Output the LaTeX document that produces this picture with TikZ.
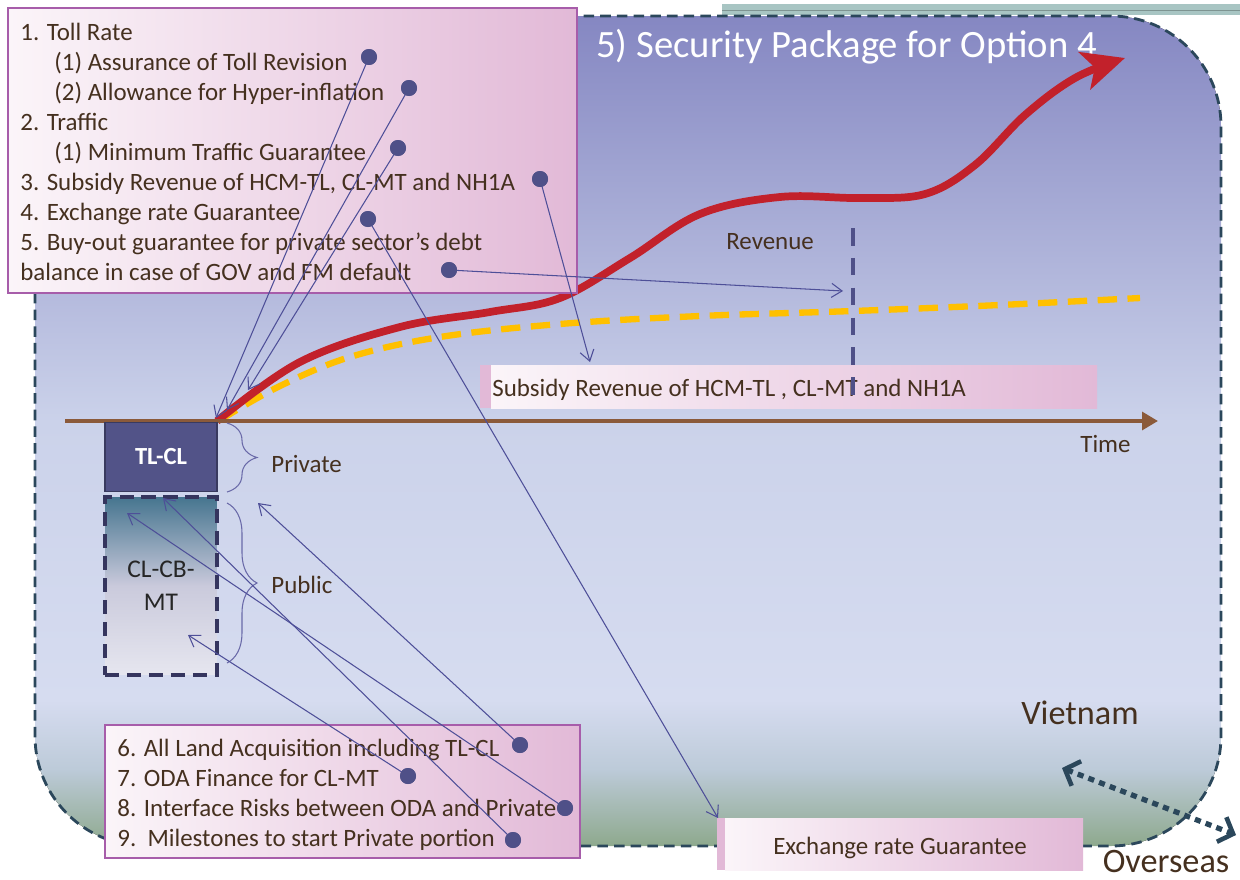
\documentclass[tikz,border=0pt]{standalone}
\usepackage{fontspec}
\setmainfont{Carlito}
\usetikzlibrary{arrows.meta,decorations.pathreplacing}

\definecolor{txtbrown}{HTML}{45301F}
\definecolor{dotblue}{HTML}{4F5088}
\definecolor{linkblue}{HTML}{4E4F98}
\definecolor{frameslate}{HTML}{2B475B}
\definecolor{boxwhite}{HTML}{FBF5F9}
\definecolor{boxpink}{HTML}{E2B9D7}
\definecolor{boxedge}{HTML}{A75DAA}
\definecolor{axisbrown}{HTML}{8B5A3A}
\definecolor{revred}{HTML}{C2212B}
\definecolor{subyellow}{HTML}{FFC000}
\definecolor{tlblue}{HTML}{525388}
\definecolor{cbedge}{HTML}{35355E}
\definecolor{cbteal}{HTML}{46758F}
\definecolor{cbmid}{HTML}{CACADC}
\definecolor{cblow}{HTML}{E6E6EF}
\definecolor{bgtop}{HTML}{8587C2}
\definecolor{bgmid}{HTML}{CBD2EA}
\definecolor{bglow}{HTML}{D6DCF0}
\definecolor{bgfade}{HTML}{BCCAD8}
\definecolor{bggreen}{HTML}{8EA98D}
\definecolor{stripteal}{HTML}{A8C5C3}

\tikzset{
  notebox/.style={draw=boxedge, line width=0.8pt, left color=boxwhite, right color=boxpink},
  bandbox/.style={left color=boxwhite, right color=boxpink},
  itemtext/.style={anchor=base west, text=txtbrown, inner sep=0pt},
  pindot/.style={circle, fill=dotblue, inner sep=0pt, minimum size=0.32cm},
  link/.style={linkblue, line width=0.6pt, ->},
  sidebrace/.style={linkblue!85, line width=0.6pt, decorate,
    decoration={brace, amplitude=0.6cm}},
  bigtext/.style={text=txtbrown, inner sep=0pt, font=\fontsize{19.5}{24}\selectfont}
}

\begin{document}
\begin{tikzpicture}[x=0.02cm, y=-0.02cm, >={Straight Barb[length=6pt,width=8pt]},
    font=\fontsize{14.2}{17}\selectfont]
  \useasboundingbox (0,0) rectangle (1240,879);

  % strip at the top
  \fill[stripteal] (722,4) rectangle (1240,15);
  \draw[stripteal!75!black, line width=0.4pt] (722,10) -- (1240,10);

  % Vietnam frame
  \begin{scope}
    \clip[rounded corners=2.2cm] (35,16) rectangle (1221,846);
    \fill[top color=bgtop, bottom color=bgmid] (35,16) rectangle (1221,422);
    \fill[top color=bgmid, bottom color=bglow] (35,421) rectangle (1221,701);
    \fill[top color=bglow, bottom color=bgfade] (35,700) rectangle (1221,771);
    \fill[top color=bgfade, bottom color=bggreen] (35,770) rectangle (1221,846);
  \end{scope}
  \draw[frameslate, line width=1.6pt, dash pattern=on 6pt off 3.5pt,
    rounded corners=2.2cm] (35,16) rectangle (1221,846);

  \node[anchor=base west, text=white, inner sep=0pt, font=\fontsize{22}{26}\selectfont]
    (title) at (596,57) {5) Security Package for Option 4};

  % curves
  \coordinate (origin) at (217,421);
  \draw[subyellow, line width=3.6pt, dash pattern=on 11pt off 6pt]
    plot[smooth, tension=0.6] coordinates {(220,420) (280,386) (350,357) (440,337)
      (560,324) (700,316) (853,311) (1000,305) (1140,298)};
  \draw[revred, line width=4.4pt, -{Stealth[length=24pt,width=22pt,inset=6pt]}]
    plot[smooth, tension=0.6] coordinates {(origin) (300,362) (400,327) (490,312)
      (560,298) (630,258) (700,214) (780,197) (860,198) (925,194) (975,165)
      (1025,115) (1075,78) (1125,58)};

  % subsidy band
  \fill[boxpink] (480,365) rectangle (491,408);
  \fill[bandbox] (491,365) rectangle (1097,408);
  \node[itemtext] (subsidy) at (492,396) {Subsidy Revenue of HCM-TL , CL-MT and NH1A};

  \draw[dotblue, line width=2.4pt, dash pattern=on 10pt off 7pt] (853,228) -- (853,402);
  \node[itemtext] (revenue) at (726,249) {Revenue};

  % time axis
  \coordinate (axisleft) at (65,421);
  \coordinate (axisright) at (1158,421);
  \draw[axisbrown, line width=2.2pt, -{Triangle[length=9pt,width=10pt]}] (axisleft) -- (axisright);
  \node[itemtext] (time) at (1080,452) {Time};

  % sections
  \node[draw=tlblue!70!black, fill=tlblue, line width=0.8pt, minimum width=2.24cm,
    minimum height=1.38cm, text=white, font=\fontsize{14}{17}\selectfont\bfseries]
    (tlcl) at (161,457) {TL-CL};
  \node[draw=cbedge, line width=2.8pt, dash pattern=on 8pt off 4.5pt,
    top color=cbteal, bottom color=cblow, middle color=cbmid,
    minimum width=2.24cm, minimum height=3.56cm, align=center, text=black!85,
    font=\fontsize{14.5}{19}\selectfont]
    (clcb) at (161,586) {CL-CB-\\MT};
  \draw[sidebrace] (227,423) -- (227,492);
  \draw[sidebrace] (227,503) -- (227,663);
  \node[itemtext] (private) at (271,472) {Private};
  \node[itemtext] (public) at (271,593) {Public};

  % guarantees
  \draw[notebox] (8,8) rectangle (577,293);
  \node[itemtext] (i1) at (20,40) {1. Toll Rate};
  \node[itemtext] (i11) at (54,70) {(1) Assurance of Toll Revision};
  \node[itemtext] (i12) at (54,100) {(2) Allowance for Hyper-inflation};
  \node[itemtext] (i2) at (20,130) {2. Traffic};
  \node[itemtext] (i21) at (54,160) {(1) Minimum Traffic Guarantee};
  \node[itemtext] (i3) at (20,190) {3. Subsidy Revenue of HCM-TL, CL-MT and NH1A};
  \node[itemtext] (i4) at (20,220) {4. Exchange rate Guarantee};
  \node[itemtext] (i5) at (20,250) {5. Buy-out guarantee for private sector's debt};
  \node[itemtext] (i5b) at (20,280) {balance in case of GOV and FM default};

  \draw[notebox] (105,725) rectangle (580,858);
  \node[itemtext] (i6) at (117,756) {6. All Land Acquisition including TL-CL};
  \node[itemtext] (i7) at (117,786) {7. ODA Finance for CL-MT};
  \node[itemtext] (i8) at (117,816) {8. Interface Risks between ODA and Private};
  \node[itemtext] (i9) at (117,846) {9.\ \ Milestones to start Private portion};

  % exchange band
  \fill[boxpink] (717,818) rectangle (725,870);
  \fill[bandbox] (725,818) rectangle (1083,870);
  \node[text=txtbrown] (exchange) at (900,848) {Exchange rate Guarantee};

  % dots
  \node[pindot] (d1) at (369,57) {};
  \node[pindot] (d2) at (409,88) {};
  \node[pindot] (d3) at (398,148) {};
  \node[pindot] (d4) at (540,179) {};
  \node[pindot] (d5) at (368,219) {};
  \node[pindot] (d6) at (449,270) {};
  \node[pindot] (d7) at (520,745) {};
  \node[pindot] (d8) at (408,776) {};
  \node[pindot] (d9) at (565,808) {};
  \node[pindot] (d10) at (513,840) {};

  % targets
  \coordinate (t1) at (216,418);
  \coordinate (t2) at (227,410);
  \coordinate (t3) at (248,390);
  \coordinate (t4) at (590,362);
  \coordinate (t5) at (718,818);
  \coordinate (t6) at (843,291);
  \coordinate (t7) at (258,503);
  \coordinate (t8) at (188,635);
  \coordinate (t9) at (127,513);
  \coordinate (t10) at (163,498);

  \foreach \i in {1,...,10} \draw[link] (d\i.center) -- (t\i);
  \foreach \i in {1,...,10} \node[pindot] at (d\i) {};

  % country labels
  \node[bigtext] (vietnam) at (1080,713) {Vietnam};
  \node[bigtext] (overseas) at (1166,861) {Overseas};
  \coordinate (vnend) at (1062,768);
  \coordinate (osend) at (1236,835);
  \draw[frameslate, line width=3pt, dash pattern=on 3.5pt off 3pt,
    {Straight Barb[length=7pt,width=15pt,line width=2.6pt]}-{Straight Barb[length=7pt,width=15pt,line width=2.6pt]}]
    (vnend) -- (osend);
\end{tikzpicture}
\end{document}
